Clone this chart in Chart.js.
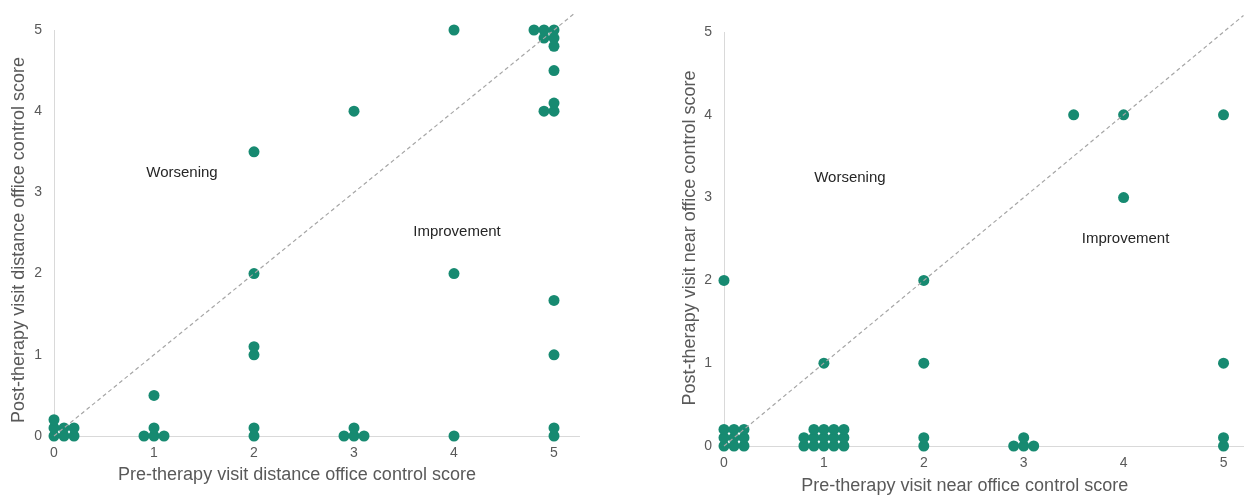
<!DOCTYPE html>
<html>
<head>
<meta charset="utf-8">
<script src="https://cdn.jsdelivr.net/npm/chart.js@4.4.0/dist/chart.umd.min.js"></script>
<style>
  body { margin: 0; background: #fff; width: 1245px; height: 497px; overflow: hidden; position: relative; }
  .box { position: absolute; top: 0; height: 497px; }
</style>
</head>
<body>
<div class="box" style="left:0;width:600px"><canvas id="distance"></canvas></div>
<div class="box" style="left:660px;width:589px"><canvas id="near"></canvas></div>
<script>
// tick labels
var xTicks = [0, 1, 2, 3, 4, 5];
var yTicks = [0, 1, 2, 3, 4, 5];

// distance office control score (pre vs post), small offsets where points overlap
var distPre  = [0, 0, 0, 0.1, 0.1, 0.2, 0.2,  0.9, 1, 1.1, 1, 1,  2, 2, 2, 2, 2, 2,  2.9, 3, 3.1, 3, 3,  4, 4, 4,
                5, 5, 5, 5, 5, 5, 4.9, 5, 5, 5, 4.9, 4.8, 4.9, 5];
var distPost = [0, 0.1, 0.2, 0, 0.1, 0, 0.1,  0, 0, 0, 0.1, 0.5,  0, 0.1, 1, 1.1, 2, 3.5,  0, 0, 0, 0.1, 4,  0, 2, 5,
                0, 0.1, 1, 1.67, 4, 4.1, 4, 4.5, 4.8, 4.9, 4.9, 5, 5, 5];

// near office control score
var nearPre  = [0, 0, 0, 0.1, 0.1, 0.1, 0.2, 0.2, 0.2, 0,
                0.8, 0.9, 1, 1.1, 1.2,  0.8, 0.9, 1, 1.1, 1.2,  0.9, 1, 1.1, 1.2,  1,
                2, 2, 2, 2,  2.9, 3, 3.1, 3,  3.5, 4, 4,  5, 5, 5, 5];
var nearPost = [0, 0.1, 0.2, 0, 0.1, 0.2, 0, 0.1, 0.2, 2,
                0, 0, 0, 0, 0,  0.1, 0.1, 0.1, 0.1, 0.1,  0.2, 0.2, 0.2, 0.2,  1,
                0, 0.1, 1, 2,  0, 0, 0, 0.1,  4, 4, 3,  0, 0.1, 1, 4];

// reference line y = x
var diagonal = [0, 5.2];

var teal = '#178a71';
var grey = '#595959';
var font = 'Liberation Sans, Arial, sans-serif';

function toPoints(xs, ys) {
    return xs.map(function (x, i) { return { x: x, y: ys[i] }; });
}

// notes ("Worsening" / "Improvement") at data positions, plus the axis titles
var notes = {
    id: 'notes',
    afterDatasetsDraw: function (chart, args, opts) {
        var c = chart.ctx, ca = chart.chartArea;
        c.save();
        c.font = '15px ' + font;
        c.fillStyle = '#262626';
        c.textAlign = 'center';
        c.textBaseline = 'middle';
        opts.items.forEach(function (it) {
            c.fillText(it.text, chart.scales.x.getPixelForValue(it.x), chart.scales.y.getPixelForValue(it.y));
        });

        c.font = '18px ' + font;
        c.fillStyle = grey;
        c.fillText(opts.xTitle, (ca.left + ca.right) / 2 + opts.xShift, chart.height - opts.xFromBottom);
        c.translate(opts.yTitleX, (ca.top + ca.bottom) / 2 + opts.yShift);
        c.rotate(-Math.PI / 2);
        c.fillText(opts.yTitle, 0, 0);
        c.restore();
    }
};

function makeChart(id, pre, post, xTitle, yTitle, box) {
    var ctx = document.getElementById(id).getContext('2d');
    return new Chart(ctx, {
        type: 'scatter',
        data: {
            datasets: [{
                type: 'line',
                data: toPoints(diagonal, diagonal),
                borderColor: '#a6a6a6',
                borderWidth: 1.2,
                borderDash: [4, 3],
                pointRadius: 0,
                clip: false,
                order: 0
            }, {
                data: toPoints(pre, post),
                backgroundColor: teal,
                borderWidth: 0,
                pointRadius: 5.5,
                clip: false,
                order: 1
            }]
        },
        plugins: [notes],
        options: {
            responsive: true,
            maintainAspectRatio: false,
            animation: false,
            events: [],
            layout: { padding: { top: box.top, right: box.right, left: 0, bottom: 0 } },
            plugins: {
                legend: { display: false },
                tooltip: { enabled: false },
                notes: {
                    items: box.notes,
                    xTitle: xTitle, yTitle: yTitle,
                    xShift: box.xShift, xFromBottom: box.xFromBottom,
                    yTitleX: box.yTitleX, yShift: box.yShift
                }
            },
            scales: {
                x: {
                    type: 'linear',
                    min: 0,
                    max: box.xMax,
                    afterBuildTicks: function (s) { s.ticks = xTicks.map(function (v) { return { value: v }; }); },
                    afterFit: function (s) { s.height = box.xHeight; },
                    grid: { display: false, drawTicks: false },
                    border: { display: true, color: '#d9d9d9', width: 1 },
                    ticks: { color: grey, font: { family: font, size: 14 }, padding: 9, maxRotation: 0 }
                },
                y: {
                    type: 'linear',
                    min: 0,
                    max: 5,
                    afterBuildTicks: function (s) { s.ticks = yTicks.map(function (v) { return { value: v }; }); },
                    afterFit: function (s) { s.width = box.yWidth; },
                    grid: { display: false, drawTicks: false },
                    border: { display: true, color: '#d9d9d9', width: 1 },
                    ticks: { color: grey, font: { family: font, size: 14 }, padding: 12 }
                }
            }
        }
    });
}

makeChart('distance', distPre, distPost,
    'Pre-therapy visit distance office control score',
    'Post-therapy visit distance office control score',
    { top: 30, right: 21, xMax: 5.25, xHeight: 61, yWidth: 54,
      xShift: -19.5, xFromBottom: 22, yTitleX: 19, yShift: 7,
      notes: [{ text: 'Worsening', x: 1.28, y: 3.24 }, { text: 'Improvement', x: 4.03, y: 2.51 }] });

makeChart('near', nearPre, nearPost,
    'Pre-therapy visit near office control score',
    'Post-therapy visit near office control score',
    { top: 32, right: 0, xMax: 5.2, xHeight: 51, yWidth: 64,
      xShift: -19, xFromBottom: 11, yTitleX: 30, yShift: -1,
      notes: [{ text: 'Worsening', x: 1.26, y: 3.24 }, { text: 'Improvement', x: 4.02, y: 2.5 }] });
</script>
</body>
</html>
